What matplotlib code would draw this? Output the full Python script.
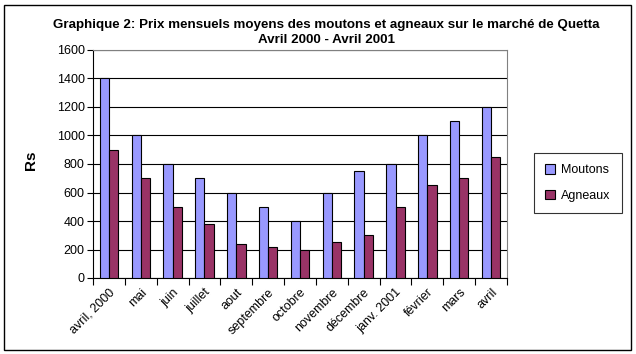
import matplotlib.pyplot as plt
import numpy as np
from matplotlib.patches import Rectangle

plt.rcParams['font.family'] = ['Liberation Sans', 'DejaVu Sans']

mois = ['avril, 2000', 'mai', 'juin', 'juillet', 'aout', 'septembre', 'octobre',
        'novembre', 'décembre', 'janv. 2001', 'février', 'mars', 'avril']
moutons = [1400, 1000, 800, 700, 600, 500, 400, 600, 750, 800, 1000, 1100, 1200]
agneaux = [900, 700, 500, 380, 240, 220, 200, 250, 300, 500, 650, 700, 850]

W, H = 636, 354
fig = plt.figure(figsize=(W / 100, H / 100), dpi=100)

# plot area in pixels
left, right, top, bottom = 93, 507, 50, 278
ax = fig.add_axes([left / W, 1 - bottom / H, (right - left) / W, (bottom - top) / H])

x = np.arange(len(mois))
bw = 0.29
ax.bar(x - bw / 2, moutons, bw, color='#9999FF', edgecolor='black', linewidth=0.8,
       label='Moutons', zorder=3)
ax.bar(x + bw / 2, agneaux, bw, color='#993366', edgecolor='black', linewidth=0.8,
       label='Agneaux', zorder=3)

ax.set_xlim(-0.5, len(mois) - 0.5)
ax.set_ylim(0, 1600)
ax.set_yticks(range(0, 1601, 200))
ax.tick_params(axis='y', labelsize=9, length=4, width=0.8, direction='out', pad=2)
ax.yaxis.grid(True, color='black', linewidth=0.8, zorder=0)
ax.set_axisbelow(True)

# ticks between categories, labels at centres
ax.set_xticks(np.arange(-0.5, len(mois), 1.0))
ax.set_xticklabels([])
ax.set_xticks(x, minor=True)
ax.set_xticklabels(mois, minor=True, rotation=45, ha='right', rotation_mode='anchor',
                   fontsize=9)
ax.tick_params(axis='x', which='major', length=5, width=0.8, direction='out')
ax.tick_params(axis='x', which='minor', length=0, pad=6)

ax.spines['left'].set_color('black')
ax.spines['bottom'].set_color('black')
ax.spines['top'].set_color('#808080')
ax.spines['right'].set_color('#808080')

fig.text(31 / W, 1 - 160 / H, 'Rs', rotation=90, ha='center', va='center',
         fontsize=11, fontweight='bold')

fig.text(326 / W, 1 - 25 / H, 'Graphique 2: Prix mensuels moyens des moutons et agneaux sur le marché de Quetta',
         ha='center', va='center', fontsize=9.6, fontweight='bold')
fig.text(326 / W, 1 - 40 / H, 'Avril 2000 - Avril 2001',
         ha='center', va='center', fontsize=9.6, fontweight='bold')

leg = fig.legend(loc='center', bbox_to_anchor=(578 / W, 1 - 183 / H), fontsize=9,
                 frameon=True, fancybox=False, edgecolor='black', handlelength=0.8,
                 handleheight=0.8, labelspacing=1.1, borderpad=0.9, handletextpad=0.5)
leg.get_frame().set_linewidth(0.8)

# outer border
fig.patches.append(Rectangle((4 / W, 4 / H), (W - 9) / W, (H - 9) / H, transform=fig.transFigure,
                             fill=False, edgecolor='black', linewidth=1))

fig.savefig('out.png', dpi=100)
